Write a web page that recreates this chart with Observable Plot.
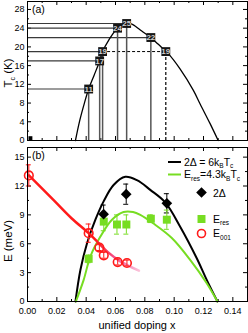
<!DOCTYPE html>
<html><head><meta charset="utf-8">
<script src="https://cdn.jsdelivr.net/npm/d3@7"></script>
<script src="https://cdn.jsdelivr.net/npm/@observablehq/plot@0.6"></script>
<style>
html,body{margin:0;padding:0;background:#fff;}
#wrap{position:relative;width:248px;height:333px;overflow:hidden;background:#fff;font-family:"Liberation Sans",Arial,sans-serif;}
#wrap svg{position:absolute;left:0;display:block;}
</style></head><body><div id="wrap"></div>
<script>
// ---------- data ----------
const sampleDoping = [0.0417, 0.0492, 0.0512, 0.0614, 0.0676, 0.0841, 0.0943];
const sampleTc     = [11, 17, 19, 24, 25, 22, 19];
const undopedX = [0.002];
const undopedTc = [0.5];

const tcCurveX = [0.0327, 0.0354, 0.0388, 0.0417, 0.0455, 0.0492, 0.0512, 0.0553, 0.0614, 0.0676, 0.0708, 0.0769, 0.0841, 0.089, 0.0943, 0.0961, 0.104, 0.1131, 0.1177, 0.1245, 0.130];
const tcCurveY = [0, 4, 8, 11, 14, 17, 19, 21.4, 24, 25, 24.9, 23.6, 22, 20.6, 19, 18.5, 15.3, 10.7, 7.8, 3.6, 0];

const gapCurveX = [0.0327, 0.0361, 0.0406, 0.0463, 0.0519, 0.0587, 0.0667, 0.0746, 0.0837, 0.0939, 0.104, 0.1154, 0.1222, 0.1295];
const gapCurveE = [0, 3.3, 6.06, 8.5, 10.4, 12.1, 12.95, 12.6, 11.6, 10.3, 7.8, 4.5, 2.25, 0];

const resCurveX = [0.033, 0.0383, 0.0429, 0.0497, 0.0576, 0.0655, 0.072, 0.0769, 0.0859, 0.0984, 0.1109, 0.1222, 0.1295];
const resCurveE = [0, 2.25, 4.7, 6.75, 8.5, 9.3, 9.3, 9.0, 8.1, 6.6, 4.33, 1.9, 0];

const e001LineX = [0.001, 0.018, 0.03, 0.0417, 0.048, 0.055, 0.063, 0.076];
const e001LineE = [13.1, 10.5, 8.65, 7.1, 6.15, 5.1, 4.2, 3.2];

const gapX   = [0.0519, 0.0673, 0.095];
const gapE   = [9.07, 11.15, 10.2];
const gapErr = [0.95, 1.05, 1.0];

const resX   = [0.0417, 0.052, 0.061, 0.0674, 0.0841, 0.095];
const resE   = [4.43, 8.3, 8.0, 8.0, 8.6, 8.5];
const resErr = [0.4, 0.95, 1.0, 1.0, 0.4, 1.0];

const e001X   = [0.0009, 0.0417, 0.049, 0.052, 0.0615, 0.0678];
const e001E   = [13.1, 7.1, 5.6, 4.8, 4.1, 4.0];
const e001Err = [1.1, 0.95, 0.3, 0.3, 0.3, 0.3];

const xTicks = [0, 0.02, 0.04, 0.06, 0.08, 0.10, 0.12, 0.14];
const xMinorTicks = [0.01, 0.03, 0.05, 0.07, 0.09, 0.11, 0.13];
const tcTicks = [0, 4, 8, 12, 16, 20, 24, 28];
const tcMinorTicks = [2, 6, 10, 14, 18, 22, 26];
const eTicks = [0, 3, 6, 9, 12, 15];
const eMinorTicks = [1.5, 4.5, 7.5, 10.5, 13.5];

// ---------- helpers ----------
const FONT = "'Liberation Sans', Arial, Helvetica, sans-serif";
const W = 248, ML = 27, MR = 1;
const FW = W - ML - MR;
const xDomain = [0, 0.15];
const pxX = (xDomain[1] - xDomain[0]) / FW; // data units per px
const zip = (xs, ys, extra = {}) => xs.map((x, i) => {
  const o = {x, y: ys[i]};
  for (const k in extra) o[k] = extra[k][i];
  return o;
});

function frameTicks(FH, xs, xsMinor, ys, ysMinor, major = 4, minor = 2) {
  const s = {stroke: "black", strokeWidth: 1};
  return [
    Plot.tickX(xs, {x: d => d, insetTop: FH - major, ...s}),
    Plot.tickX(xsMinor, {x: d => d, insetTop: FH - minor, ...s}),
    Plot.tickX(xs, {x: d => d, insetBottom: FH - major, ...s}),
    Plot.tickX(xsMinor, {x: d => d, insetBottom: FH - minor, ...s}),
    Plot.tickY(ys, {y: d => d, insetRight: FW - major, ...s}),
    Plot.tickY(ysMinor, {y: d => d, insetRight: FW - minor, ...s}),
    Plot.tickY(ys, {y: d => d, insetLeft: FW - major, ...s}),
    Plot.tickY(ysMinor, {y: d => d, insetLeft: FW - minor, ...s})
  ];
}

const wrap = document.getElementById("wrap");

// ---------- top panel ----------
const samples = zip(sampleDoping, sampleTc);
const lastSample = samples[samples.length - 1];
const partner = samples.find(d => d.y === lastSample.y && d !== lastSample);
const solidSamples = samples.slice(0, -1);

const topH = 141, topMT = 1, topMB = 1;
const topFH = topH - topMT - topMB;
const topPlot = Plot.plot({
  width: W, height: topH, marginLeft: ML, marginRight: MR, marginTop: topMT, marginBottom: topMB,
  style: {fontFamily: FONT, fontSize: "9px", background: "transparent", color: "black", overflow: "visible"},
  x: {domain: xDomain, axis: null},
  y: {domain: [0, 29.7], ticks: tcTicks, tickSize: 0, tickPadding: 3, label: null},
  marks: [
    ...frameTicks(topFH, xTicks, xMinorTicks, tcTicks, tcMinorTicks),
    Plot.ruleY(solidSamples, {y: "y", x1: 0, x2: "x", stroke: "#3a3a3a", strokeWidth: 1.2}),
    Plot.ruleY([lastSample], {y: "y", x1: partner.x, x2: "x", stroke: "black", strokeWidth: 1, strokeDasharray: "3,2"}),
    Plot.ruleX(solidSamples, {x: "x", y1: 0, y2: "y", stroke: "#555", strokeWidth: 1.5}),
    Plot.ruleX([lastSample], {x: "x", y1: 0, y2: "y", stroke: "black", strokeWidth: 1.2, strokeDasharray: "3,2"}),
    Plot.line(zip(tcCurveX, tcCurveY), {x: "x", y: "y", curve: "catmull-rom", stroke: "black", strokeWidth: 1.3}),
    Plot.dot(samples, {x: "x", y: "y", symbol: "square", r: 5, fill: "#161616"}),
    Plot.text(samples, {x: "x", y: "y", text: d => String(d.y), fill: "#d0d0d0", fontSize: 8, fontWeight: "bold"}),
    Plot.dot(zip(undopedX, undopedTc), {x: "x", y: "y", symbol: "square", r: 2.2, fill: "black"}),
    Plot.frame({stroke: "black", strokeWidth: 1})
  ]
});
topPlot.style.top = "0px";
wrap.appendChild(topPlot);

// ---------- bottom panel ----------
const botTop = 141, botH = 192, botMT = 6, botMB = 32;
const botFH = botH - botMT - botMB;
const cap = 2.5 * pxX;
const errRows = (xs, ys, es) => zip(xs, ys, {e: es});
const gapRows = errRows(gapX, gapE, gapErr);
const resRows = errRows(resX, resE, resErr);
const e001Rows = errRows(e001X, e001E, e001Err);
const GREEN = "#77dd22", RED = "#ff1a1a";

function errorBars(rows, color, w = 1) {
  return [
    Plot.ruleX(rows, {x: "x", y1: d => d.y - d.e, y2: d => d.y + d.e, stroke: color, strokeWidth: w}),
    Plot.ruleY(rows, {y: d => d.y + d.e, x1: d => d.x - cap, x2: d => d.x + cap, stroke: color, strokeWidth: w}),
    Plot.ruleY(rows, {y: d => d.y - d.e, x1: d => d.x - cap, x2: d => d.x + cap, stroke: color, strokeWidth: w})
  ];
}

const botPlot = Plot.plot({
  width: W, height: botH, marginLeft: ML, marginRight: MR, marginTop: botMT, marginBottom: botMB,
  style: {fontFamily: FONT, fontSize: "9px", background: "transparent", color: "black", overflow: "visible"},
  x: {domain: xDomain, ticks: xTicks, tickSize: 0, tickPadding: 6, tickFormat: d3.format(".2f"), label: null},
  y: {domain: [0, 16], ticks: eTicks, tickSize: 0, tickPadding: 3, label: null},
  marks: [
    ...frameTicks(botFH, xTicks, xMinorTicks, eTicks, eMinorTicks),
    Plot.line(zip(gapCurveX, gapCurveE), {x: "x", y: "y", curve: "catmull-rom", stroke: "black", strokeWidth: 2}),
    Plot.line(zip(resCurveX, resCurveE), {x: "x", y: "y", curve: "catmull-rom", stroke: GREEN, strokeWidth: 2}),
    Plot.line(zip(e001LineX, e001LineE), {x: "x", y: "y", curve: "catmull-rom", stroke: "url(#e001fade)", strokeWidth: 2.5}),
    ...errorBars(gapRows, "black"),
    ...errorBars(resRows, GREEN),
    ...errorBars(e001Rows, RED),
    Plot.dot(resRows, {x: "x", y: "y", symbol: "square", r: 4.5, fill: GREEN}),
    Plot.dot(gapRows, {x: "x", y: "y", symbol: "diamond2", r: 4.8, fill: "black"}),
    Plot.dot(e001Rows, {x: "x", y: "y", r: 4.3, fill: "none", stroke: RED, strokeWidth: 1.6}),
    Plot.frame({stroke: "black", strokeWidth: 1})
  ]
});
botPlot.style.top = botTop + "px";
wrap.appendChild(botPlot);

// gradient for the fading E001 guide line
const bsvg = d3.select(botPlot);
const grad = bsvg.insert("defs", ":first-child").append("linearGradient")
  .attr("id", "e001fade").attr("x1", "0").attr("x2", "1").attr("y1", "0").attr("y2", "0");
grad.append("stop").attr("offset", "0").attr("stop-color", RED);
grad.append("stop").attr("offset", "0.6").attr("stop-color", RED);
grad.append("stop").attr("offset", "0.8").attr("stop-color", "#f4579a");
grad.append("stop").attr("offset", "1").attr("stop-color", "#fbc3da");

// ---------- texts with subscripts ----------
function richText(sel, x, y, parts, size, attrs = {}) {
  const t = sel.append("text").attr("x", x).attr("y", y)
    .attr("font-family", FONT).attr("font-size", size).attr("fill", "black")
    .attr("text-anchor", "start");
  for (const k in attrs) t.attr(k, attrs[k]);
  let shift = 0;
  for (const p of parts) {
    const sub = typeof p !== "string";
    const s = sub ? p.sub : p;
    const want = sub ? size * 0.28 : 0;
    const tsp = t.append("tspan").text(s).attr("dy", want - shift);
    if (sub) tsp.attr("font-size", size * 0.62);
    shift = want;
  }
  return t;
}

const tsvg = d3.select(topPlot);
richText(tsvg, 32, 13, ["(a)"], 10.5);
richText(tsvg, 0, 0, ["T", {sub: "c"}, " (K)"], 11.5, {"text-anchor": "middle", transform: "translate(12,73) rotate(-90)"});

richText(bsvg, 32, 18, ["(b)"], 10.5);
richText(bsvg, 0, 0, ["E (meV)"], 11.5, {"text-anchor": "middle", transform: "translate(12,100) rotate(-90)"});
richText(bsvg, 137, 188, ["unified doping x"], 11, {"text-anchor": "middle"});

// legend
const lg = bsvg.append("g");
lg.append("line").attr("x1", 168).attr("x2", 181).attr("y1", 21).attr("y2", 21).attr("stroke", "black").attr("stroke-width", 2);
richText(lg, 184, 24.5, ["2Δ = 6k", {sub: "B"}, "T", {sub: "c"}], 10.5);
lg.append("line").attr("x1", 168).attr("x2", 181).attr("y1", 33.5).attr("y2", 33.5).attr("stroke", GREEN).attr("stroke-width", 2);
richText(lg, 184, 37, ["E", {sub: "res"}, "=4.3k", {sub: "B"}, "T", {sub: "c"}], 10.5);
lg.append("path").attr("d", d3.symbol(d3.symbolDiamond2, Math.PI * 4.8 * 4.8)()).attr("transform", "translate(201.5,51.5)").attr("fill", "black");
richText(lg, 213, 55.5, ["2Δ"], 10.5);
lg.append("path").attr("d", d3.symbol(d3.symbolSquare, Math.PI * 4.5 * 4.5)()).attr("transform", "translate(201.5,78)").attr("fill", GREEN);
richText(lg, 213, 81.5, ["E", {sub: "res"}], 10.5);
lg.append("circle").attr("cx", 201.5).attr("cy", 92.5).attr("r", 4).attr("fill", "none").attr("stroke", RED).attr("stroke-width", 1.6);
richText(lg, 213, 96, ["E", {sub: "001"}], 10.5);
</script>
</body></html>
